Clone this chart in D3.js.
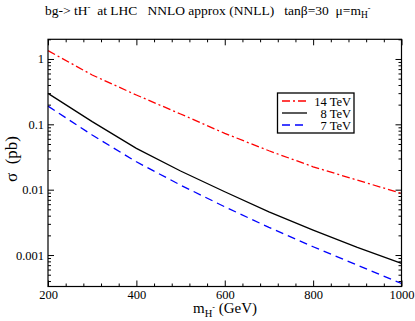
<!DOCTYPE html>
<html>
<head>
<meta charset="utf-8">
<script src="https://cdn.jsdelivr.net/npm/d3@7"></script>
<style>
  body { margin: 0; background: #fff; }
  svg { display: block; font-family: "Liberation Serif", "Times New Roman", Times, "DejaVu Serif", serif; }
  text { white-space: pre; }
</style>
</head>
<body>
<svg id="chart" width="415" height="321"></svg>
<script>
// charged Higgs mass (GeV)
var massGeV = [200, 300, 400, 500, 600, 700, 800, 900, 1000];

// cross sections (pb)
var sigma14 = [1.34, 0.569, 0.281, 0.144, 0.0728, 0.0394, 0.0224, 0.0140, 0.00877];
var sigma8  = [0.298, 0.110, 0.0429, 0.0193, 0.00929, 0.00459, 0.00241, 0.00131, 0.000743];
var sigma7  = [0.190, 0.0686, 0.0267, 0.01175, 0.00547, 0.00265, 0.00134, 0.00070, 0.000367];

var xTicks = [200, 400, 600, 800, 1000];
var yTicks = [0.001, 0.01, 0.1, 1];
var yTickLabels = ["0.001", "0.01", "0.1", "1"];

var series = [
	{ name: "14 TeV", values: sigma14, color: "#ff0000", dash: "8,3,2,3" },
	{ name: "8 TeV", values: sigma8, color: "#000000", dash: null },
	{ name: "7 TeV", values: sigma7, color: "#0000ff", dash: "8,5" }
];

var svg = d3.select("#chart");

var plotL = 48, plotR = 401.5, plotT = 39.3, plotB = 286.5;

var x = d3.scaleLinear().domain([200, 1000]).range([plotL, plotR]);
var y = d3.scaleLog().domain([3.3e-4, 2]).range([plotB, plotT]);

// minor ticks
var xMinor = d3.range(200, 1001, 40).filter(function(v){ return v % 200 !== 0; });
var yMinor = [];
[1e-4, 1e-3, 1e-2, 1e-1, 1].forEach(function(dec){
	for (var k = 2; k <= 9; k++){
		var v = dec * k;
		if (v >= 3.3e-4 && v <= 2) yMinor.push(v);
	}
});

function drawAxis(axis, tf, size, values, labels){
	var g = svg.append("g").attr("transform", tf)
		.call(axis.tickValues(values).tickSizeInner(size).tickSizeOuter(0).tickPadding(4)
			.tickFormat(labels ? function(d,i){ return labels[i]; } : function(){ return ""; }));
	g.select(".domain").remove();
	g.attr("font-family", null);
	g.selectAll("line").attr("stroke", "#000").attr("stroke-width", 1);
	g.selectAll("text").attr("fill", "#000").style("font-size", "12.5px");
	return g;
}

// bottom / top
drawAxis(d3.axisBottom(x), "translate(0," + plotB + ")", -6, xTicks, xTicks.map(String));
drawAxis(d3.axisBottom(x), "translate(0," + plotB + ")", -3, xMinor, null);
drawAxis(d3.axisTop(x), "translate(0," + plotT + ")", -6, xTicks, null);
drawAxis(d3.axisTop(x), "translate(0," + plotT + ")", -3, xMinor, null);

// left / right
drawAxis(d3.axisLeft(y), "translate(" + plotL + ",0)", -6, yTicks, yTickLabels);
drawAxis(d3.axisLeft(y), "translate(" + plotL + ",0)", -3, yMinor, null);
drawAxis(d3.axisRight(y), "translate(" + plotR + ",0)", -6, yTicks, null);
drawAxis(d3.axisRight(y), "translate(" + plotR + ",0)", -3, yMinor, null);

// curves
var line = d3.line()
	.x(function(d){ return x(d[0]); })
	.y(function(d){ return y(d[1]); });

series.forEach(function(s){
	svg.append("path")
		.datum(massGeV.map(function(m, i){ return [m, s.values[i]]; }))
		.attr("d", line)
		.attr("fill", "none")
		.attr("stroke", s.color)
		.attr("stroke-width", 1.3)
		.attr("stroke-dasharray", s.dash);
});

// frame
svg.append("rect")
	.attr("x", plotL).attr("y", plotT)
	.attr("width", plotR - plotL).attr("height", plotB - plotT)
	.attr("fill", "none").attr("stroke", "#000").attr("stroke-width", 1.2);

// legend
var lg = svg.append("g");
lg.append("rect")
	.attr("x", 277.5).attr("y", 93).attr("width", 76.5).attr("height", 40)
	.attr("fill", "#fff").attr("stroke", "#000").attr("stroke-width", 1.3);
series.forEach(function(s, i){
	var yy = 101 + i * 12;
	lg.append("line")
		.attr("x1", 282).attr("x2", 307).attr("y1", yy).attr("y2", yy)
		.attr("stroke", s.color).attr("stroke-width", 1.3)
		.attr("stroke-dasharray", s.dash);
	lg.append("text")
		.attr("x", 351).attr("y", yy + 4.5)
		.attr("text-anchor", "end")
		.style("font-size", "12.5px")
		.text(s.name);
});

// title
var title = svg.append("text").attr("x", 45).attr("y", 15).style("font-size", "13.5px");
title.append("tspan").text("bg-> tH");
title.append("tspan").attr("dy", -5).style("font-size", "9px").text("-");
title.append("tspan").attr("dy", 5).text("  at LHC   NNLO approx (NNLL)   tan\u03b2=30  \u03bc=m");
title.append("tspan").attr("dy", 3).style("font-size", "9.5px").text("H");
title.append("tspan").attr("dy", -7).style("font-size", "8px").text("-");

// x label
var xl = svg.append("text").attr("x", 193).attr("y", 313).style("font-size", "15px");
xl.append("tspan").text("m");
xl.append("tspan").attr("dy", 4).style("font-size", "10.5px").text("H");
xl.append("tspan").attr("dy", -7).style("font-size", "8px").text("-");
xl.append("tspan").attr("dy", 3).text(" (GeV)");

// y label
svg.append("text")
	.attr("transform", "translate(17,159) rotate(-90)")
	.attr("text-anchor", "middle")
	.style("font-size", "17px")
	.text("\u03c3  (pb)");
</script>
</body>
</html>
